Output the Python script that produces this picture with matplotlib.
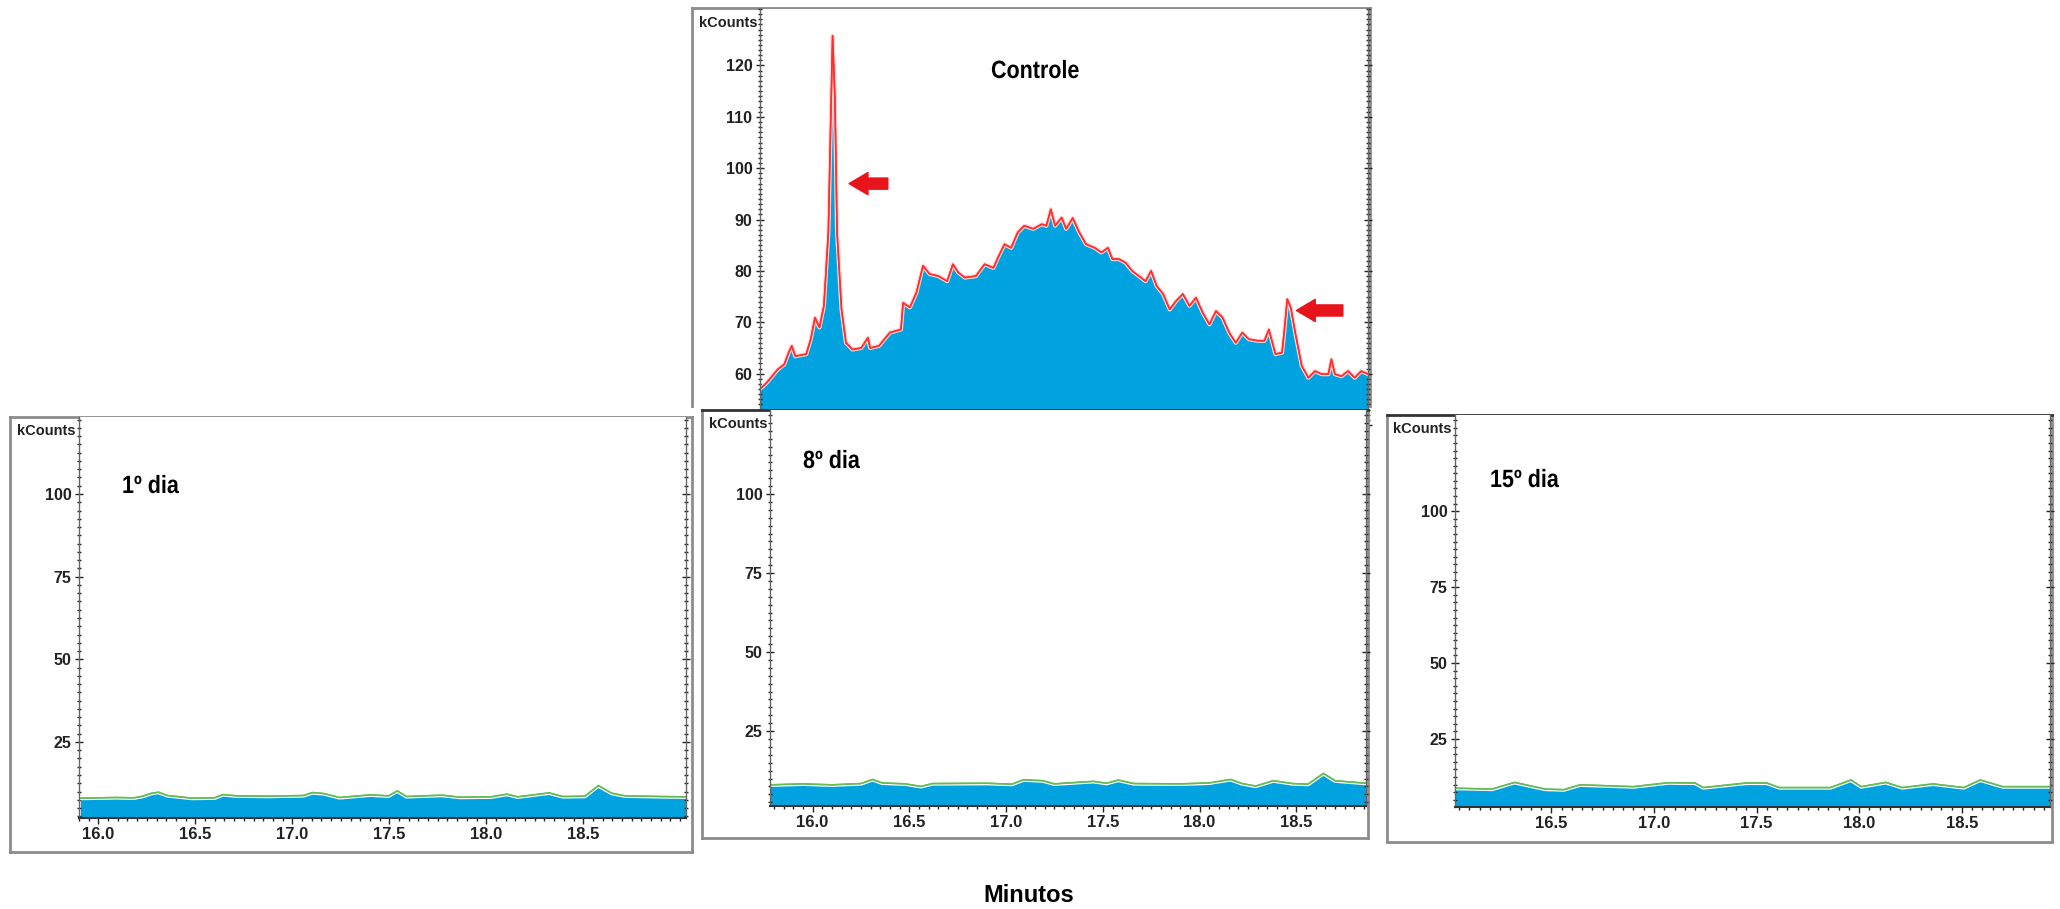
import matplotlib
matplotlib.use('Agg')
import matplotlib.pyplot as plt
import matplotlib.patheffects as pe
from matplotlib.transforms import Affine2D
from matplotlib.ticker import MultipleLocator, FormatStrFormatter

# Controle: retention time (min) vs signal (kCounts)
controle_t = [15.780, 15.814, 15.871, 15.905, 15.928, 15.944, 15.962, 16.019, 16.042, 16.064,
              16.087, 16.110, 16.133, 16.144, 16.155, 16.167, 16.178, 16.201, 16.224, 16.258,
              16.303, 16.337, 16.349, 16.394, 16.451, 16.508, 16.519, 16.554, 16.588, 16.622,
              16.656, 16.701, 16.747, 16.776, 16.804, 16.838, 16.895, 16.940, 16.986, 17.009,
              17.043, 17.077, 17.111, 17.145, 17.191, 17.236, 17.259, 17.282, 17.304, 17.338,
              17.361, 17.395, 17.429, 17.464, 17.509, 17.543, 17.577, 17.600, 17.634, 17.668,
              17.702, 17.737, 17.771, 17.800, 17.828, 17.862, 17.896, 17.930, 17.964, 17.998,
              18.032, 18.066, 18.101, 18.135, 18.169, 18.203, 18.237, 18.271, 18.305, 18.351,
              18.385, 18.408, 18.442, 18.476, 18.487, 18.503, 18.521, 18.544, 18.578, 18.612,
              18.646, 18.681, 18.715, 18.731, 18.749, 18.783, 18.817, 18.851, 18.885, 18.920]
controle_v = [57.0, 58.2, 60.8, 61.8, 64.1, 65.4, 63.4, 63.8, 66.7, 70.9,
              69.0, 73.2, 87.5, 107.0, 125.8, 113.4, 87.5, 72.5, 66.0, 64.7,
              65.0, 67.0, 65.0, 65.4, 68.0, 68.6, 73.8, 72.9, 75.8, 81.0,
              79.4, 79.0, 78.0, 81.3, 79.7, 78.7, 79.0, 81.3, 80.6, 82.6,
              85.2, 84.5, 87.5, 88.8, 88.2, 89.1, 88.8, 92.0, 88.8, 90.4,
              88.2, 90.3, 87.5, 85.2, 84.5, 83.6, 84.5, 82.3, 82.3, 81.6,
              80.0, 79.0, 78.0, 80.0, 77.1, 75.5, 72.5, 74.2, 75.5, 73.2,
              74.8, 71.9, 69.6, 72.2, 70.9, 68.0, 66.0, 68.0, 66.7, 66.4,
              66.4, 68.6, 63.8, 64.1, 68.0, 74.5, 72.9, 68.0, 61.5, 59.2,
              60.5, 59.9, 59.9, 62.8, 59.9, 59.5, 60.5, 59.2, 60.5, 59.9]

# 1º dia
dia1_t = [15.907, 16.091, 16.183, 16.229, 16.275, 16.310, 16.356, 16.483, 16.598, 16.644,
          16.713, 16.874, 17.058, 17.104, 17.162, 17.243, 17.403, 17.496, 17.542, 17.588,
          17.772, 17.864, 18.025, 18.106, 18.163, 18.324, 18.394, 18.509, 18.578, 18.647,
          18.716, 18.900, 19.031]
dia1_v = [8.0, 8.2, 8.1, 8.6, 9.5, 9.8, 8.8, 8.0, 8.1, 9.1,
          8.7, 8.6, 8.8, 9.7, 9.4, 8.2, 9.0, 8.7, 10.2, 8.5,
          8.9, 8.3, 8.4, 9.2, 8.4, 9.6, 8.5, 8.6, 11.8, 9.5,
          8.7, 8.5, 8.4]

# 8º dia
dia8_t = [15.78, 15.95, 16.10, 16.25, 16.31, 16.36, 16.48, 16.56, 16.62, 16.90,
          17.03, 17.09, 17.19, 17.25, 17.45, 17.52, 17.58, 17.66, 17.90, 18.05,
          18.16, 18.22, 18.29, 18.38, 18.48, 18.56, 18.64, 18.70, 18.78, 18.86]
dia8_v = [8.0, 8.3, 8.0, 8.4, 9.7, 8.6, 8.3, 7.5, 8.4, 8.5,
          8.2, 9.6, 9.3, 8.3, 9.1, 8.5, 9.5, 8.4, 8.3, 8.6,
          9.7, 8.4, 7.6, 9.3, 8.4, 8.2, 11.6, 9.3, 8.9, 8.5]

# 15º dia
dia15_t = [16.03, 16.21, 16.32, 16.47, 16.56, 16.64, 16.90, 17.07, 17.20, 17.24,
           17.45, 17.55, 17.61, 17.86, 17.96, 18.01, 18.13, 18.21, 18.36, 18.51,
           18.59, 18.70, 18.93]
dia15_v = [8.8, 8.5, 10.7, 8.5, 8.3, 9.9, 9.3, 10.6, 10.5, 9.0,
           10.5, 10.5, 9.0, 9.0, 11.5, 9.3, 10.7, 9.0, 10.2, 9.0,
           11.5, 9.3, 9.3]

x_ticks = [16.0, 16.5, 17.0, 17.5, 18.0, 18.5]
x_ticks_15 = [16.5, 17.0, 17.5, 18.0, 18.5]
y_ticks_top = [50, 60, 70, 80, 90, 100, 110, 120]
y_ticks_low = [25, 50, 75, 100]

plt.rcParams['font.family'] = ['Liberation Sans', 'DejaVu Sans']
plt.rcParams['font.weight'] = 'bold'

W, H = 2060, 909
BLUE = '#00a3e0'
GRAY = '#8c8c8c'

fig = plt.figure(figsize=(W / 100, H / 100), dpi=100)


class Squeeze(pe.AbstractPathEffect):
    """Narrow a text horizontally around a fixed x (display pixels)."""

    def __init__(self, x0, sx):
        super().__init__()
        self.x0, self.sx = x0, sx

    def draw_path(self, renderer, gc, tpath, affine, rgbFace=None):
        squeeze = Affine2D().translate(-self.x0, 0).scale(self.sx, 1).translate(self.x0, 0)
        renderer.draw_path(gc, tpath, affine + squeeze, rgbFace)


def label(x, y, s, size=18, sx=0.86):
    fig.text(x / W, 1 - y / H, s, va='baseline', fontsize=size,
             path_effects=[Squeeze(x, sx)])


def box(l, t, r, b):
    # pixel box measured from the top-left corner -> figure fraction
    return [l / W, 1 - b / H, (r - l) / W, (b - t) / H]


def frame(l, t, r, b, top=GRAY, bottom=True):
    fr = fig.add_axes(box(l, t, r, b))
    fr.set_xticks([])
    fr.set_yticks([])
    for s in fr.spines.values():
        s.set_color(GRAY)
        s.set_linewidth(2)
    fr.spines['top'].set_color(top)
    fr.spines['bottom'].set_visible(bottom)
    return fr


def panel(rect, t, v, xlim, ylim, xticks, yticks, yminor, line, halo='white', xlabels=True):
    l, top, r, b = rect
    ax = fig.add_axes(box(*rect))
    ax.fill_between(t, 0, v, color=BLUE, lw=0)
    ax.plot(t, v, color=line, lw=1.1,
            path_effects=[pe.withStroke(linewidth=3, foreground=halo), pe.Normal()])
    ax.set_xlim(*xlim)
    ax.set_ylim(*ylim)
    ax.set_xticks(xticks)
    ax.set_yticks(yticks)
    ax.xaxis.set_minor_locator(MultipleLocator(0.05))
    ax.yaxis.set_minor_locator(MultipleLocator(yminor))
    ax.xaxis.set_major_formatter(FormatStrFormatter('%.1f'))
    ax.tick_params(axis='y', which='both', left=True, right=True, direction='inout',
                   colors='#222222', labelsize=11.5, pad=2.5)
    ax.tick_params(axis='y', which='major', length=6, width=1)
    ax.tick_params(axis='y', which='minor', length=3, width=1)
    ax.tick_params(axis='x', which='both', bottom=True, top=False, direction='out',
                   colors='#222222', labelsize=12, pad=2, labelbottom=xlabels)
    ax.tick_params(axis='x', which='major', length=4.5, width=1)
    ax.tick_params(axis='x', which='minor', length=2.5, width=1)
    ax.spines['top'].set_visible(False)
    for s in ['left', 'right']:
        ax.spines[s].set_color('#666666')
        ax.spines[s].set_linewidth(1)
    ax.spines['bottom'].set_color('#333333')
    ax.spines['bottom'].set_linewidth(1.5)
    fig.text((l - 3) / W, 1 - (top + 14) / H, 'kCounts', ha='right', va='center',
             fontsize=10.5, color='#222222')
    return ax


# Controle (drawn first, lower panels overlap its base)
frame(692, 8, 1370, 406, bottom=False)
ax0 = panel((760, 9, 1368, 425), controle_t, controle_v, (15.78, 18.92), (50, 131),
            x_ticks, y_ticks_top, 1, '#ff2e2e', halo='#ffd6d6', xlabels=False)
arrow = dict(arrowstyle='simple,head_length=0.68,head_width=0.8,tail_width=0.4',
             color='#e8141c', shrinkA=0, shrinkB=0, mutation_scale=20)
ax0.annotate('', xy=(16.24, 97), xytext=(16.44, 97), arrowprops=arrow)
ax0.annotate('', xy=(18.55, 72.3), xytext=(18.79, 72.3), arrowprops=arrow)
label(991, 78, 'Controle')

# 1º dia
frame(10, 417, 692, 852)
panel((79, 417, 686, 818), dia1_t, dia1_v, (15.9, 19.03), (2.0, 123.3),
      x_ticks, y_ticks_low, 2.5, '#66bb55')
label(122, 493, '1º dia')

# 8º dia
frame(702, 410, 1368, 838, top='#333333')
panel((770, 410, 1366, 806), dia8_t, dia8_v, (15.78, 18.86), (1.3, 126.6),
      x_ticks, y_ticks_low, 2.5, '#66bb55')
label(803, 468, '8º dia')

# 15º dia
frame(1387, 415, 2052, 842, top='#333333')
panel((1455, 415, 2050, 807), dia15_t, dia15_v, (16.03, 18.93), (2.6, 131.7),
      x_ticks_15, y_ticks_low, 2.5, '#66bb55')
label(1490, 487, '15º dia')

fig.text(1029 / W, 1 - 896 / H, 'Minutos', ha='center', va='center', fontsize=17)

fig.savefig('out.png', dpi=100, facecolor='white')
